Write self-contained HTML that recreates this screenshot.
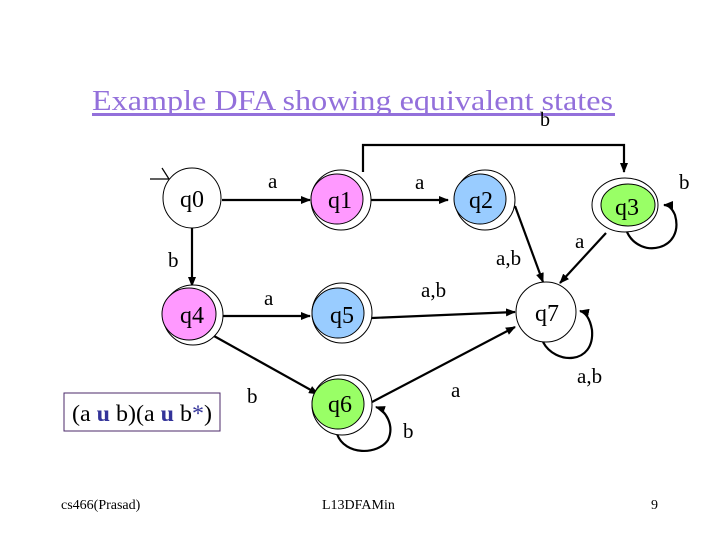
<!DOCTYPE html>
<html><head><style>
html,body{margin:0;padding:0;background:#fff;}
svg{display:block;}
text{font-family:"Liberation Serif",serif;}
</style></head><body>
<svg width="720" height="540" viewBox="0 0 720 540" xmlns="http://www.w3.org/2000/svg">
<defs>
<marker id="ar" markerWidth="10" markerHeight="8" refX="9" refY="4" orient="auto" markerUnits="userSpaceOnUse">
<path d="M0,0 L10,4 L0,8 z" fill="#000"/></marker>
</defs>
<text x="92" y="110" font-size="28" fill="#9370db" textLength="521" lengthAdjust="spacingAndGlyphs">Example DFA showing equivalent states</text>
<rect x="92" y="113" width="523" height="3" fill="#9370db"/>
<text x="540" y="126" font-size="20">b</text>

<g stroke="#000" stroke-width="2.2" fill="none">
<line x1="222" y1="200" x2="310" y2="200" marker-end="url(#ar)"/>
<line x1="370" y1="200" x2="448" y2="200" marker-end="url(#ar)"/>
<polyline points="363,172 363,145 624,145 624,172" marker-end="url(#ar)"/>
<line x1="192" y1="228" x2="192" y2="286" marker-end="url(#ar)"/>
<line x1="222" y1="316" x2="310" y2="316" marker-end="url(#ar)"/>
<line x1="372" y1="318" x2="515" y2="312" marker-end="url(#ar)"/>
<line x1="515" y1="206" x2="543" y2="282" marker-end="url(#ar)"/>
<line x1="606" y1="233" x2="560" y2="283" marker-end="url(#ar)"/>
<line x1="214" y1="336" x2="318" y2="394" marker-end="url(#ar)"/>
<line x1="372" y1="402" x2="515" y2="327" marker-end="url(#ar)"/>
<path d="M627,232 C640,260 685,250 675,215 C672,208 668,205 664,205" marker-end="url(#ar)"/>
<path d="M543,342 C555,365 595,365 592,330 C590,318 585,312 580,311" marker-end="url(#ar)"/>
<path d="M337,434 C345,456 378,455 388,440 C395,425 385,410 376,407" marker-end="url(#ar)"/>
</g>
<g stroke="#000" stroke-width="1.2" fill="none">
<line x1="150" y1="179" x2="169" y2="179"/>
<line x1="162" y1="168" x2="169" y2="179"/>
</g>

<g stroke="#000" stroke-width="1">
<ellipse cx="192" cy="198" rx="29" ry="30" fill="#fff"/>
<ellipse cx="341" cy="200" rx="30" ry="30" fill="#fff"/>
<ellipse cx="337" cy="199" rx="26" ry="25" fill="#ff99ff"/>
<ellipse cx="485" cy="200" rx="30" ry="30" fill="#fff"/>
<ellipse cx="480" cy="199" rx="26" ry="25" fill="#99ccff"/>
<ellipse cx="625" cy="205" rx="33" ry="27" fill="#fff"/>
<ellipse cx="628" cy="205" rx="27" ry="21" fill="#99ff66"/>
<ellipse cx="193" cy="315" rx="30" ry="30" fill="#fff"/>
<ellipse cx="189" cy="314" rx="27" ry="26" fill="#ff99ff"/>
<ellipse cx="342" cy="313" rx="30" ry="30" fill="#fff"/>
<ellipse cx="338" cy="313" rx="26" ry="25" fill="#99ccff"/>
<ellipse cx="546" cy="312" rx="30" ry="30" fill="#fff"/>
<ellipse cx="342" cy="405" rx="30" ry="30" fill="#fff"/>
<ellipse cx="338" cy="404" rx="26" ry="25" fill="#99ff66"/>
</g>
<g font-size="24" text-anchor="middle">
<text x="192" y="207">q0</text>
<text x="340" y="208">q1</text>
<text x="481" y="208">q2</text>
<text x="627" y="215">q3</text>
<text x="192" y="323">q4</text>
<text x="342" y="323">q5</text>
<text x="547" y="321">q7</text>
<text x="340" y="412">q6</text>
</g>
<g font-size="21">
<text x="268" y="188">a</text>
<text x="415" y="189">a</text>
<text x="679" y="189">b</text>
<text x="168" y="267">b</text>
<text x="496" y="265">a,b</text>
<text x="575" y="248">a</text>
<text x="264" y="305">a</text>
<text x="421" y="297">a,b</text>
<text x="577" y="383">a,b</text>
<text x="451" y="397">a</text>
<text x="247" y="403">b</text>
<text x="403" y="438">b</text>
</g>
<rect x="64" y="393" width="156" height="38" fill="none" stroke="#4b2a6a" stroke-width="1"/>
<text x="72" y="421" font-size="23" textLength="140" lengthAdjust="spacingAndGlyphs">(a <tspan fill="#333399" font-weight="bold">u</tspan> b)(a <tspan fill="#333399" font-weight="bold">u</tspan> b<tspan fill="#333399">*</tspan>)</text>
<g font-size="14">
<text x="61" y="509">cs466(Prasad)</text>
<text x="322" y="509">L13DFAMin</text>
<text x="651" y="509">9</text>
</g>
</svg>
</body></html>
